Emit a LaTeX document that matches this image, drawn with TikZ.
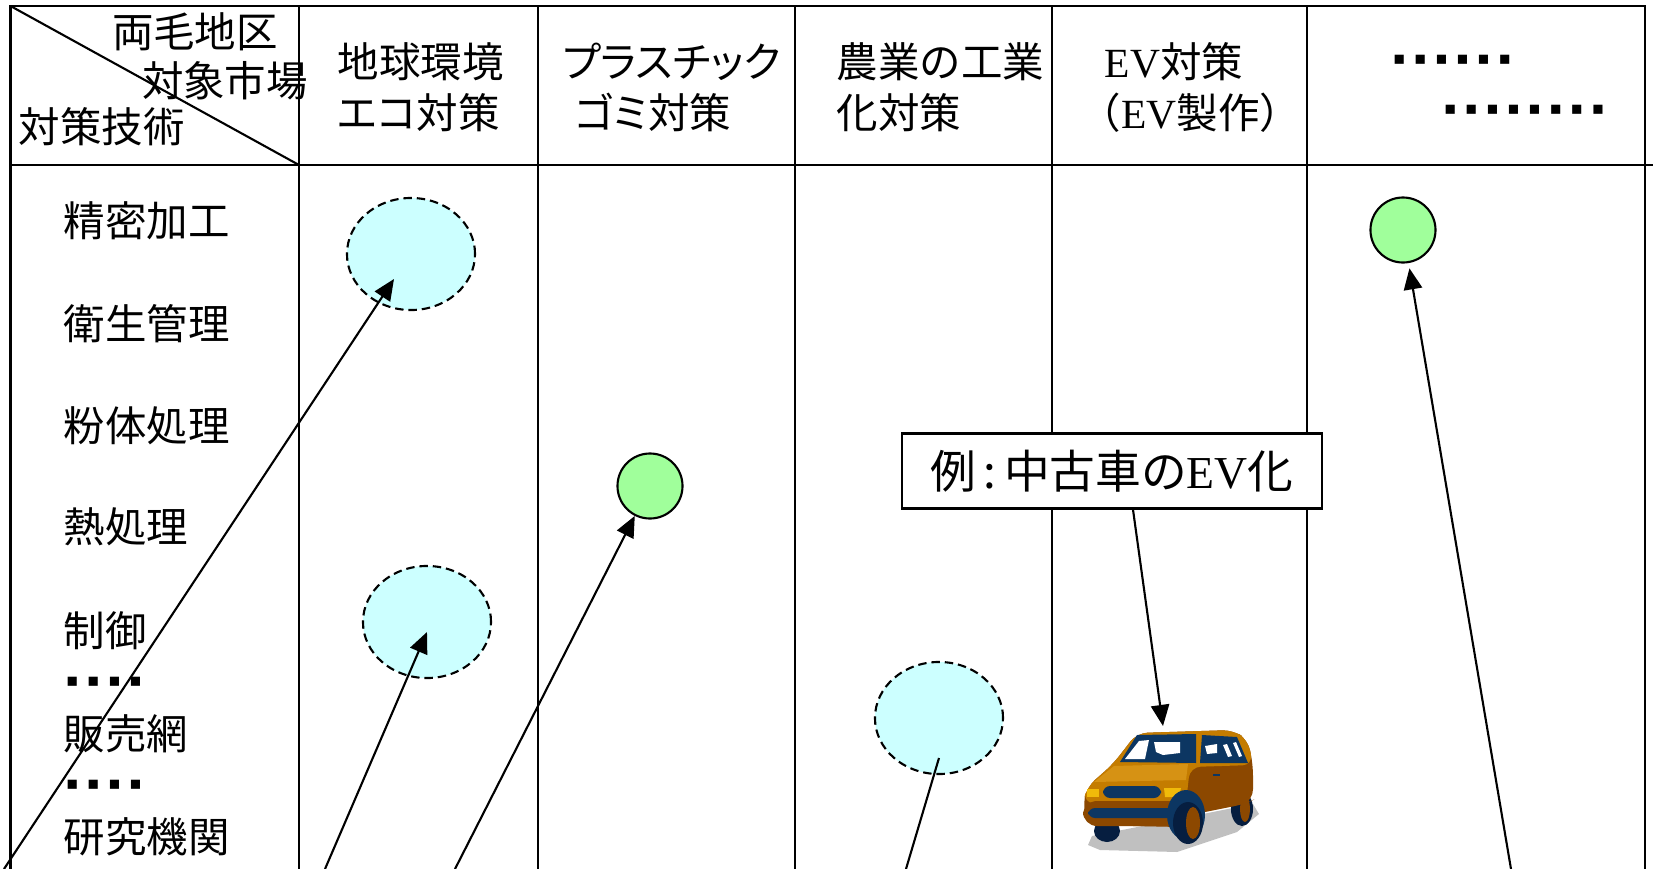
\documentclass[tikz,border=0pt]{standalone}
\usepackage{fontspec}
\setmainfont{Liberation Serif}
\newfontfamily\jp{Noto Sans CJK JP}
\newfontfamily\jpk[RawFeature=+palt]{Noto Sans CJK JP}
\newfontfamily\symfont{DejaVu Sans}
\usetikzlibrary{arrows.meta,shapes.geometric,positioning}

\definecolor{ecocyan}{RGB}{204,255,255}
\definecolor{seedgreen}{RGB}{160,255,155}
\definecolor{vanorange}{RGB}{196,124,0}
\definecolor{vanlight}{RGB}{214,146,20}
\definecolor{vanbrown}{RGB}{140,72,0}
\definecolor{vannavy}{RGB}{12,54,98}
\definecolor{vandark}{RGB}{6,30,64}
\definecolor{vanlamp}{RGB}{240,186,10}
\definecolor{vanshadow}{RGB}{192,192,192}

\newcommand{\jpsize}{\jp\fontsize{11.8}{14.5}\selectfont}
\newcommand{\sqdot}{\makebox[6pt]{\symfont\fontsize{5.2}{5.2}\selectfont ▪}}

\begin{document}
\begin{tikzpicture}[x=0.01cm, y=-0.01cm,
    grid/.style={line width=0.6pt},
    lbl/.style={inner sep=0pt, anchor=west, font=\jpsize},
    head/.style={inner sep=0pt, anchor=west, align=left, font=\jpsize},
    eco/.style={ellipse, draw, line width=0.6pt, dash pattern=on 2.4pt off 1.4pt,
        fill=ecocyan, minimum width=1.28cm, minimum height=1.12cm, inner sep=0pt},
    seed/.style={circle, draw, line width=0.6pt, fill=seedgreen,
        minimum size=0.65cm, inner sep=0pt},
    arrow/.style={-{Triangle[length=6pt,width=5.2pt]}, line width=0.6pt},
    note/.style={draw, line width=0.6pt, fill=white, minimum width=4.19cm,
        minimum height=0.75cm, inner sep=0pt, font=\jp\fontsize{13}{15}\selectfont}
]
\useasboundingbox (0,0) rectangle (1653,869);
\clip (0,0) rectangle (1653,869);

% table frame and columns
\draw[grid] (10.5,869) -- (10.5,6) -- (1645,6) -- (1645,869);
\draw[grid] (10.5,165) -- (1653,165);
\draw[grid] (299,6) -- (299,869);
\draw[grid] (538,6) -- (538,869);
\draw[grid] (795,6) -- (795,869);
\draw[grid] (1052,6) -- (1052,869);
\draw[grid] (1307,6) -- (1307,869);
\draw[grid] (10.5,6) -- (299,165);

% corner cell
\node[lbl, anchor=center] (region) at (195,32) {両毛地区};
\node[lbl, anchor=center] (market) at (225,81) {対象市場};
\node[lbl] (tech) at (18,127) {対策技術};

% market columns
\node[head] (heco) at (337,87) {地球環境\\{\jpk エコ}対策};
\node[head] (hplastic) at (562,87) {{\jpk プラスチック}\\\hspace*{3.5pt}{\jpk ゴミ}対策};
\node[head] (hagri) at (836,87) {農業の工業\\化対策};
\node[head] (hev) at (1104,87) {{\rmfamily EV}対策\\\hspace*{-0.6em}（{\rmfamily EV}製作）};
\node[lbl] (hmore) at (1388,60) {\sqdot\sqdot\sqdot\sqdot\sqdot\sqdot};
\node[lbl] (hmore2) at (1439,110) {\sqdot\sqdot\sqdot\sqdot\sqdot\sqdot\sqdot\sqdot};

% technology rows
\node[lbl] (r1) at (63,221) {精密加工};
\node[lbl] (r2) at (63,324) {衛生管理};
\node[lbl] (r3) at (63,426) {粉体処理};
\node[lbl] (r4) at (63,527) {熱処理};
\node[lbl] (r5) at (63,631) {制御};
\node[lbl] (r6) at (61,682) {\sqdot\sqdot\sqdot\sqdot};
\node[lbl] (r7) at (63,734) {販売網};
\node[lbl] (r8) at (61,785) {\sqdot\sqdot\sqdot\sqdot};
\node[lbl] (r9) at (63,837) {研究機関};

% matches
\node[eco] (eco1) at (411,254) {};
\node[eco] (eco2) at (427,622) {};
\node[eco] (agri) at (939,718) {};
\node[seed] (plastic) at (650,486) {};
\node[seed] (more) at (1403,230) {};

\node[note] (ex) at (1112,471) {例\,:\,中古車の{\rmfamily EV}化};

% van
\fill[vanshadow] (1088,845) -- (1092,836) -- (1253,804) -- (1259,814) -- (1237,832)
    -- (1177,852) -- (1100,850) -- cycle;
\fill[vandark] (1242,809) ellipse [x radius=11, y radius=17];
\fill[vanbrown] (1245,809) ellipse [x radius=5, y radius=13];
\fill[vanbrown, rounded corners=3pt] (1083,805) -- (1087,787) -- (1113,764) -- (1137,733)
    -- (1233,730) -- (1248,740) -- (1253,765) -- (1253,800) -- (1245,804) -- (1190,815)
    -- (1180,827) -- (1087,825) -- cycle;
\fill[vanorange, rounded corners=3pt] (1083,803) -- (1087,787) -- (1113,764) -- (1137,733)
    -- (1233,730) -- (1248,740) -- (1253,765) -- (1190,767) -- (1186,803) -- cycle;
\fill[vanlight] (1094,782) -- (1114,766) -- (1188,764) -- (1186,780) -- cycle;
\fill[vannavy] (1120,762) -- (1137,735) -- (1196,734) -- (1196,763) -- cycle;
\fill[white] (1125,759) -- (1139,741) -- (1149,740) -- (1145,759) -- cycle;
\fill[white] (1154,742) -- (1180,742) -- (1180,753) -- (1163,755) -- (1156,752) -- cycle;
\fill[vannavy] (1200,763) -- (1202,735) -- (1237,737) -- (1248,763) -- cycle;
\fill[white] (1205,746) -- (1217,744) -- (1217,753) -- (1207,754) -- cycle;
\fill[white] (1223,745) -- (1227,744) -- (1232,756) -- (1228,757) -- cycle;
\fill[white] (1233,743) -- (1236,742) -- (1242,756) -- (1239,757) -- cycle;
\fill[vannavy] (1213,774) rectangle (1220,776);
\fill[vandark] (1107,831) ellipse [x radius=13, y radius=11];
\fill[vanbrown, rounded corners=4pt] (1083,801) rectangle (1185,826);
\fill[vannavy, rounded corners=2pt] (1088,808) rectangle (1177,818);
\fill[vannavy, rounded corners=2pt] (1103,786) rectangle (1161,798);
\fill[vanlamp] (1087,789) rectangle (1099,797);
\fill[vanlamp] (1164,788) -- (1181,788) -- (1179,797) -- (1165,797) -- cycle;
\fill[vannavy] (1186,815) ellipse [x radius=19, y radius=25];
\fill[vandark] (1188,823) ellipse [x radius=15, y radius=21];
\fill[vanbrown] (1193,823) ellipse [x radius=7, y radius=16];
\coordinate (van) at (1163,726);

% links from the table bottom
\coordinate (a1) at (4,869);
\coordinate (a2) at (325,869);
\coordinate (a3) at (455,869);
\coordinate (a4) at (906,869);
\coordinate (a6) at (1511,869);
\draw[arrow] (a1) -- ([shift={(-17,25)}]eco1.center);
\draw[arrow] (a2) -- ([shift={(0,10)}]eco2.center);
\draw[arrow] (a3) -- (plastic);
\draw[line width=0.6pt] (a4) -- ([shift={(0,40)}]agri.center);
\draw[arrow, shorten >=1.5pt] (a6) -- (more);
\draw[arrow] ([shift={(21,0)}]ex.south) -- (van);
\end{tikzpicture}
\end{document}
